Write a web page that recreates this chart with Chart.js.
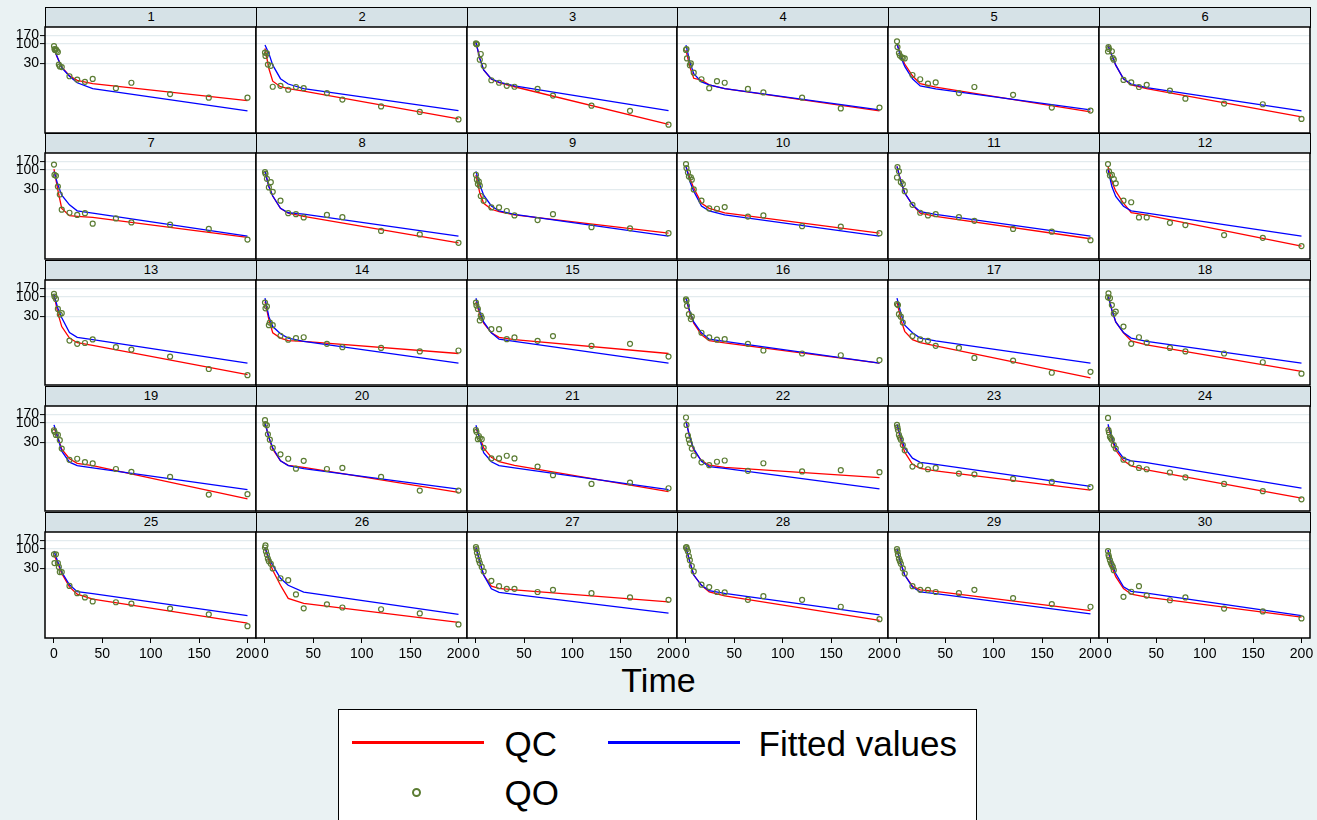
<!DOCTYPE html>
<html>
<head>
<meta charset="utf-8">
<script src="https://cdn.jsdelivr.net/npm/chart.js@4.4.1/dist/chart.umd.min.js"></script>
<style>
  body { margin: 0; background: #eaf2f3; font-family: "Liberation Sans", Arial, sans-serif; }
  #page { position: relative; width: 1317px; height: 820px; overflow: hidden; }
  .strip {
    position: absolute; box-sizing: border-box; background: #d6e2e7;
    border: 1px solid #000; text-align: center; font-size: 13px; line-height: 18px; color: #000;
  }
  .panel { position: absolute; }
  #xtitle { position: absolute; left: 0; width: 1317px; top: 660px; text-align: center; font-size: 34px; line-height: 40px; color: #000; }
  #legend { position: absolute; left: 338px; top: 709px; width: 639px; height: 130px; box-sizing: border-box; background: #fff; border: 1.5px solid #000; }
  .lg-line { position: absolute; height: 3px; width: 132px; }
  .lg-text { position: absolute; font-size: 35px; line-height: 40px; color: #000; white-space: nowrap; }
  .lg-dot { position: absolute; width: 9px; height: 9px; box-sizing: border-box; border: 2.5px solid #5b7c33; border-radius: 50%; }
</style>
</head>
<body>
<div id="page">
  <div id="xtitle">Time</div>
  <div id="legend"></div>
</div>
<script>
const TIMES = [0, 0.5, 1, 2, 3, 4, 5, 6, 8, 16, 24, 32, 40, 64, 80, 120, 160, 200];
const LINE_TIMES = [0, 4, 8, 16, 24, 40, 200];
const X_TICKS = [0, 50, 100, 150, 200];
const Y_TICKS = [30, 100, 170];
const PANEL_TITLES = ["1","2","3","4","5","6","7","8","9","10","11","12","13","14","15",
  "16","17","18","19","20","21","22","23","24","25","26","27","28","29","30"];

// observed concentrations, one row per panel (null = no point at that time)
const QO = [
  [88,73,69,72,66,61,28,25,24,13.6,11.1,9.6,11.5,6.5,9.1,4.5,3.6,3.6],
  [59,48,null,56,28,null,null,26,7.1,7.5,5.9,7.0,6.5,4.8,3.2,2.1,1.49,0.94],
  [104,100,98,null,null,38,54,null,26,10.6,9.1,7.5,7.1,6.2,4.1,2.2,1.6,0.68],
  [69,73,41,null,null,27,30,null,17,11.3,6.5,10,9.1,6.2,5.0,3.6,1.86,1.95],
  [118,83,null,57,49,null,44,42,41,14.7,11.3,8.6,9.3,4.8,7.0,4.3,1.95,1.62],
  [63,83,74,null,null,64,42,38,null,10.8,9.3,7.0,8.0,5.6,3.4,2.5,2.4,0.97],
  [140,74,null,70,null,36,null,22,8.6,7.1,6.2,6.9,3.6,5.0,3.9,3.4,2.6,1.35],
  [88,79,null,58,null,34,null,47,26,15,6.9,6.5,5.3,6.2,5.4,2.3,1.86,1.1],
  [74,null,55,42,49,38,20,null,15,9.9,9.9,7.9,6.0,4.5,6.5,2.9,2.7,2.0],
  [145,113,null,86,67,null,64,55,30,15,9.3,9.1,10.1,5.6,6.0,3.1,3.0,2.0],
  [63,120,null,92,null,47,null,42,27,11.6,7.1,6.0,6.5,5.4,4.3,2.6,2.2,1.3],
  [145,null,92,71,null,74,null,57,44,15,13.6,5.3,5.3,3.8,3.3,1.78,1.5,0.90],
  [120,102,null,88,null,47,null,33,36,6.5,5.3,5.6,7.0,4.3,3.7,2.4,1.1,0.75],
  [70,49,null,55,null,17,20,null,17,8.8,6.9,7.6,8.0,5.3,4.3,4.1,3.3,3.5],
  [70,58,null,47,null,23,31,27,null,13.3,13.3,7.1,7.9,6.4,8.6,4.7,5.3,2.4],
  [86,79,57,null,34,null,25,29,null,10.6,7.9,6.9,7.1,5.3,3.5,2.9,2.6,1.92],
  [64,null,60,34,null,29,null,20,null,8.6,7.0,6.4,4.7,4.1,2.2,1.86,0.87,0.92],
  [97,125,null,92,null,60,null,35,40,15.6,5.3,8.0,5.7,4.1,3.3,2.9,1.68,0.82],
  [63,57,null,47,null,47,null,34,20,9.9,10.6,8.6,7.9,5.6,4.7,3.4,1.13,1.16],
  [118,92,null,86,49,null,35,null,21,14,10.6,5.7,9.3,5.6,6.0,3.4,1.45,1.45],
  [64,57,null,36,44,38,null,36,21,10.8,10.8,12.8,10.8,6.5,3.8,2.2,2.4,1.68],
  [140,88,null,45,35,28,null,20,13,8.5,7.1,8.8,9.5,5.0,8.0,4.8,5.2,4.6],
  [88,75,64,47,40,35,null,25,18,6.5,7.0,5.5,6.0,4.2,4.0,3.0,2.5,1.8],
  [136,64,55,42,38,35,null,25,20,10,8.0,6.0,5.5,4.5,3.3,2.2,1.4,0.84],
  [72,42,null,72,null,42,33,24,24,10.2,6.5,5.0,3.9,3.7,3.4,2.5,1.75,0.84],
  [110,125,86,70,55,47,null,40,30,16.4,14.5,6,2.54,3.25,2.68,2.4,1.86,0.94],
  [113,100,80,64,50,42,null,33,25,14,10,8.5,8.5,7.0,8.0,6.5,5.0,4.3],
  [110,113,100,86,64,50,null,35,25,11,9.5,7.0,6.8,4.3,5.4,4.3,2.8,1.3],
  [100,86,70,55,47,40,null,30,22,10,8.0,8.0,7.0,6.5,8.0,4.8,3.3,2.8],
  [88,69,61,50,42,37,33,27,null,5.2,7.1,10.0,5.6,4.2,5.0,2.5,2.1,1.36]
];

// QC curve at LINE_TIMES
const QC = [
  [72,41,24,14,10.6,8.6,3.0],
  [76,22,10,7.1,6.3,5.4,0.97],
  [110,41,20,11.3,9.1,7.1,0.69],
  [69,24,12,10.7,8.0,6.3,1.6],
  [102,49,29,14,8.6,6.9,1.5],
  [92,49,27,11.6,8.0,6.3,1.1],
  [106,29,9.3,5.9,5.7,5.3,1.54],
  [92,36,20,9.3,6.9,5.7,1.1],
  [74,24,12.8,8.8,7.6,6.2,2.0],
  [125,60,33,12.8,9.3,7.0,2.0],
  [125,49,24,11.6,6.9,5.7,1.42],
  [125,49,27,12.8,7.1,6.1,0.90],
  [113,36,15.6,7.6,5.7,4.8,0.78],
  [74,24,10.6,7.6,6.5,6.2,2.9],
  [74,33,19.4,10.6,8.0,6.9,2.9],
  [92,36,19.4,9.3,6.5,5.6,1.6],
  [74,24,11.6,6.9,5.7,4.7,0.63],
  [113,44,21,10.6,6.4,5.0,0.95],
  [74,40,19.4,10.6,8.0,6.9,0.87],
  [102,40,19.4,9.3,7.0,6.2,1.3],
  [71,40,21,11.6,8.8,7.0,1.36],
  [110,40,18,9.5,7.1,6.2,3.25],
  [90,33,16,7.5,5.8,5.0,1.5],
  [80,35,18,9.5,6.8,5.3,0.9],
  [69,41,22,9.6,6.1,4.5,1.02],
  [110,50,27,10.6,4.7,3.45,1.06],
  [110,45,20,10,8.8,8,3.8],
  [110,45,20,10.6,7.0,5.5,1.2],
  [100,40,20,10,8.0,7.3,2.2],
  [94,33,18,8.6,6.1,5.1,1.48]
];

// fitted values at LINE_TIMES
const FITTED = [
  [72,41,23,13.6,9.1,6.3,1.6],
  [94,56,27,11.7,8.4,6.3,1.62],
  [110,41,20,11.5,9.5,7.5,1.62],
  [94,33,16,9.6,8.0,6.3,1.7],
  [102,44,25,11.6,7.5,6.2,1.7],
  [92,49,27,11.6,8.4,6.7,1.6],
  [92,40,21,11.6,8.0,6.9,1.68],
  [92,36,20,9.3,7.1,6.5,1.68],
  [92,40,21,10.8,8.0,6.4,1.68],
  [125,49,27,10.8,8.0,6.2,1.68],
  [125,49,24,11.6,7.6,6.4,1.68],
  [102,36,19.4,10.6,8.0,6.9,1.68],
  [113,49,27,10.8,8.0,6.9,1.6],
  [92,29,15.6,10.0,7.6,6.2,1.6],
  [92,40,21,10.6,7.1,6.2,1.6],
  [92,40,21,10.6,7.1,6.2,1.6],
  [92,36,17.1,10.6,7.6,6.4,1.6],
  [113,44,21,10.8,7.6,6.2,1.6],
  [88,40,17.1,8.6,6.9,6.0,1.54],
  [102,40,21,9.3,6.9,5.7,1.6],
  [86,36,15.6,8.8,6.9,6.0,1.54],
  [110,40,20,9.0,6.5,5.8,1.62],
  [90,40,21,11,8.5,7.5,1.9],
  [92,40,21,11,9.3,8.3,1.7],
  [88,45,24,10.9,7.1,6.3,1.62],
  [110,57,37,16.4,10.6,6.9,1.75],
  [110,45,20,8.5,6.8,6.0,1.9],
  [110,45,20,10.6,7.6,6.4,1.7],
  [100,40,20,9.5,7.0,6.3,1.8],
  [94,41,22,9.6,7.3,6.5,1.62]
];

const NCOL = 6;
const NROW = 5;
const PLOT_LEFT = 45;
const PLOT_TOP = 27;
const CELL_W = 210.8;
const CELL_H = 126.25;
const PLOT_H = 105.5;
const STRIP_H = 20;
const FONT = "'Liberation Sans', Arial, sans-serif";

const panelFrame = {
  id: "panelFrame",
  beforeDraw(chart) {
    const { ctx, chartArea: a } = chart;
    ctx.save();
    ctx.fillStyle = "#ffffff";
    ctx.fillRect(a.left, a.top, a.right - a.left, a.bottom - a.top);
    ctx.restore();
  },
  afterDraw(chart) {
    const { ctx, chartArea: a } = chart;
    ctx.save();
    ctx.strokeStyle = "#000";
    ctx.lineWidth = 1.5;
    ctx.strokeRect(a.left, a.top, a.right - a.left, a.bottom - a.top);
    ctx.restore();
  }
};

function toPoints(xs, ys) {
  return xs.map((x, i) => ({ x: x, y: ys[i] })).filter((p) => p.y !== null);
}

function buildPanel(i) {
  const page = document.getElementById("page");
  const col = i % NCOL;
  const row = Math.floor(i / NCOL);
  const left = Math.round(PLOT_LEFT + CELL_W * col);
  const right = Math.round(PLOT_LEFT + CELL_W * (col + 1));
  const top = Math.round(PLOT_TOP + CELL_H * row);
  const bottom = Math.round(PLOT_TOP + CELL_H * row + PLOT_H);
  const isLeft = col === 0;
  const isBottom = row === NROW - 1;

  const strip = document.createElement("div");
  strip.className = "strip";
  strip.style.left = left + "px";
  strip.style.top = (top - STRIP_H) + "px";
  strip.style.width = (right - left + 1) + "px";
  strip.style.height = STRIP_H + 1 + "px";
  strip.textContent = PANEL_TITLES[i];
  page.appendChild(strip);

  // room around the plot area for tick labels (canvas is transparent)
  const padL = isLeft ? 45 : 14;
  const padR = 14;
  const padT = 12;
  const padB = isBottom ? 42 : 12;
  const w = right - left + padL + padR;
  const h = bottom - top + padT + padB;

  const canvas = document.createElement("canvas");
  canvas.className = "panel";
  canvas.width = w;
  canvas.height = h;
  canvas.style.left = (left - padL) + "px";
  canvas.style.top = (top - padT) + "px";
  canvas.style.width = w + "px";
  canvas.style.height = h + "px";
  page.appendChild(canvas);

  new Chart(canvas.getContext("2d"), {
    type: "scatter",
    data: {
      datasets: [
        {
          label: "QO",
          data: toPoints(TIMES, QO[i]),
          pointStyle: "circle",
          pointRadius: 2.5,
          borderWidth: 1.2,
          borderColor: "#5b7c33",
          backgroundColor: "rgba(0,0,0,0)"
        },
        {
          label: "Fitted values",
          data: toPoints(LINE_TIMES, FITTED[i]),
          showLine: true,
          borderColor: "#0000ff",
          borderWidth: 1.3,
          pointRadius: 0
        },
        {
          label: "QC",
          data: toPoints(LINE_TIMES, QC[i]),
          showLine: true,
          borderColor: "#ff0000",
          borderWidth: 1.3,
          pointRadius: 0
        }
      ]
    },
    options: {
      responsive: false,
      animation: false,
      events: [],
      layout: {
        padding: { left: isLeft ? 0 : padL, right: padR, top: padT, bottom: isBottom ? 0 : padB }
      },
      plugins: { legend: { display: false }, tooltip: { enabled: false } },
      scales: {
        x: {
          type: "linear",
          min: -9.3,
          max: 208.8,
          afterBuildTicks: (s) => { s.ticks = X_TICKS.map((v) => ({ value: v })); },
          afterFit: (s) => { s.height = isBottom ? padB : 0; },
          border: { display: false },
          grid: { display: isBottom, drawOnChartArea: false, tickLength: 5, tickColor: "#000", tickWidth: 1 },
          ticks: {
            display: isBottom,
            autoSkip: false,
            maxRotation: 0,
            padding: 3,
            color: "#000",
            font: { family: FONT, size: 14 },
            callback: (v) => String(v)
          }
        },
        y: {
          type: "logarithmic",
          min: 0.405,
          max: 287,
          afterBuildTicks: (s) => { s.ticks = Y_TICKS.map((v) => ({ value: v })); },
          afterFit: (s) => { s.width = isLeft ? padL : 0; },
          border: { display: false },
          grid: {
            color: "#e3ebee",
            lineWidth: 1.2,
            drawTicks: isLeft,
            tickLength: 5,
            tickColor: "#000",
            tickWidth: 1
          },
          ticks: {
            display: isLeft,
            autoSkip: false,
            padding: 1,
            color: "#000",
            font: { family: FONT, size: 14 },
            callback: (v) => String(v)
          }
        }
      }
    },
    plugins: [panelFrame]
  });
}

function buildLegend() {
  const box = document.getElementById("legend");
  const ox = 338, oy = 709;
  const items = [
    { kind: "line", color: "#ff0000", x: 352, y: 741 },
    { kind: "text", text: "QC", x: 505, y: 724 },
    { kind: "line", color: "#0000ff", x: 608, y: 741 },
    { kind: "text", text: "Fitted values", x: 759, y: 724 },
    { kind: "dot", x: 412, y: 788 },
    { kind: "text", text: "QO", x: 505, y: 773 }
  ];
  items.forEach((it) => {
    const el = document.createElement("div");
    if (it.kind === "line") {
      el.className = "lg-line";
      el.style.background = it.color;
    } else if (it.kind === "dot") {
      el.className = "lg-dot";
    } else {
      el.className = "lg-text";
      el.textContent = it.text;
    }
    el.style.left = (it.x - ox - 1.5) + "px";
    el.style.top = (it.y - oy - 1.5) + "px";
    box.appendChild(el);
  });
}

for (let i = 0; i < NCOL * NROW; i++) {
  buildPanel(i);
}
buildLegend();
</script>
</body>
</html>
